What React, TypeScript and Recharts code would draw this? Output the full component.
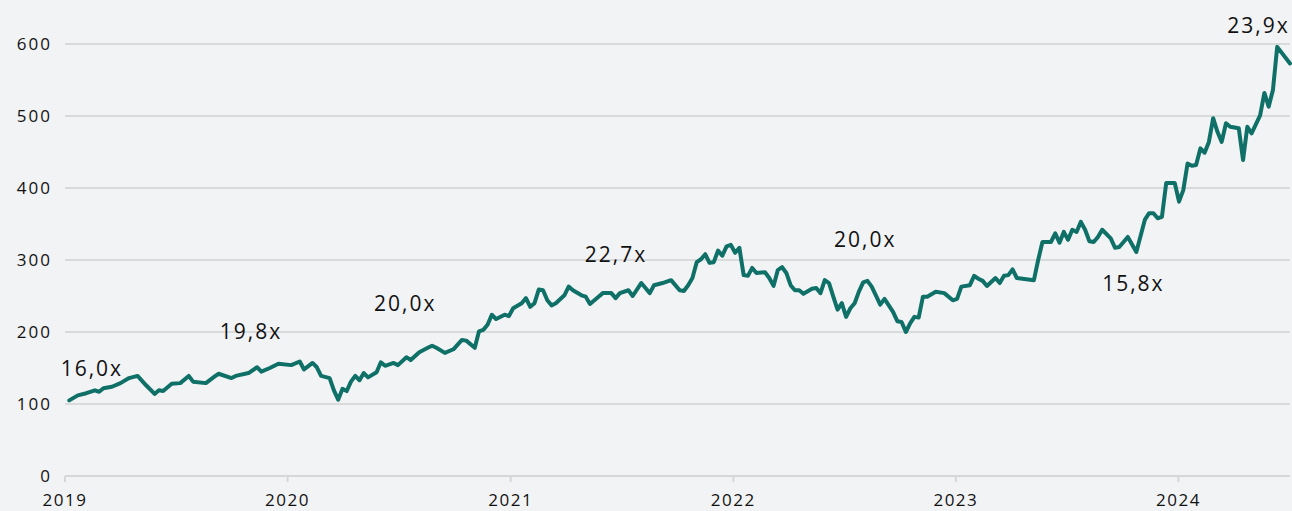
import React from "react";
import {
  LineChart,
  Line,
  XAxis,
  YAxis,
  CartesianGrid,
  ReferenceDot,
} from "recharts";

// weeks since 2019-01-01
const weeks = [
  1, 3, 5, 7, 8, 9, 11, 13, 15, 17, 19, 21, 22, 23, 25, 27, 29, 30, 33, 35,
  36, 39, 40, 43, 45, 46, 48, 50, 53, 55, 56, 58, 59, 60, 62, 63, 64, 65, 66, 67,
  68, 69, 70, 71, 73, 74, 75, 77, 78, 80, 81, 83, 85, 86, 87, 89, 91, 93, 94, 96,
  97, 98, 99, 100, 101, 103, 104, 105, 107, 108, 109, 110, 111, 112, 113, 114, 115, 117, 118, 119,
  121, 122, 123, 125, 126, 128, 129, 130, 132, 133, 135, 136, 137, 138, 140, 142, 144, 145, 146, 147,
  148, 149, 150, 151, 152, 153, 154, 155, 156, 157, 158, 159, 160, 161, 162, 164, 165, 166, 167, 168,
  169, 170, 171, 172, 173, 175, 176, 177, 178, 179, 180, 181, 182, 183, 184, 185, 186, 187, 188, 189,
  191, 192, 194, 195, 196, 197, 198, 199, 200, 201, 202, 204, 206, 208, 209, 210, 212, 213, 214, 215,
  216, 218, 219, 220, 221, 222, 223, 227, 228, 229, 230, 231, 232, 233, 234, 235, 236, 237, 238, 239,
  240, 241, 242, 243, 245, 246, 247, 249, 251, 253, 254, 255, 256, 257, 258, 260, 261, 262, 263, 264,
  265, 266, 267, 268, 269, 270, 271, 272, 273, 275, 276, 277, 278, 280, 281, 282, 283, 284, 287,
];

const values = [
  105, 112, 115, 119, 117, 122, 124, 129, 136, 139, 126, 114, 119, 118, 128, 129, 139, 131, 129, 138,
  142, 136, 139, 143, 151, 145, 150, 156, 154, 159, 148, 157, 151, 139, 136, 119, 106, 121, 118, 131,
  139, 133, 143, 137, 144, 158, 153, 157, 154, 165, 161, 172, 178, 181, 178, 171, 176, 189, 188, 178,
  201, 203, 210, 224, 218, 224, 222, 233, 240, 247, 235, 240, 259, 258, 244, 237, 240, 251, 263, 258,
  251, 249, 239, 249, 254, 254, 247, 254, 258, 250, 268, 261, 254, 265, 268, 272, 258, 257, 265, 275,
  297, 301, 308, 296, 297, 313, 306, 319, 321, 310, 317, 279, 278, 289, 282, 283, 275, 264, 286, 290,
  282, 265, 258, 258, 253, 260, 261, 254, 272, 268, 249, 231, 240, 221, 233, 240, 256, 269, 271, 263,
  238, 246, 228, 215, 214, 200, 212, 221, 220, 249, 249, 256, 254, 244, 246, 263, 265, 278, 274, 271,
  264, 275, 268, 278, 279, 287, 275, 272, 300, 325, 325, 325, 337, 324, 339, 328, 342, 339, 353, 342,
  326, 325, 332, 342, 330, 317, 318, 332, 311, 356, 365, 365, 358, 360, 407, 407, 381, 397, 434, 431,
  432, 455, 449, 464, 497, 478, 464, 490, 485, 483, 439, 485, 476, 501, 532, 513, 536, 596, 573,
];

const years = [2019, 2020, 2021, 2022, 2023, 2024];
const yTicks = [0, 100, 200, 300, 400, 500, 600];

const peLabels = ["16,0x", "19,8x", "20,0x", "22,7x", "20,0x", "15,8x", "23,9x"];
const peWeeks = [6.3, 43.6, 79.7, 129.1, 187.5, 250.3, 279.6];
const peLevels = [149, 200, 240, 308, 328, 267, 626];

const WEEK_MS = 7 * 24 * 3600 * 1000;
const weekOfYear = (y: number) => (Date.UTC(y, 0, 1) - Date.UTC(2019, 0, 1)) / WEEK_MS;
const yearTicks = years.map(weekOfYear);

const data = weeks.map((w, i) => ({ week: w, value: values[i] }));

const FONT = "'Open Sans', 'DejaVu Sans', sans-serif";
const LINE = "#0f7068";

export default function App() {
  return (
    <div
      style={{
        position: "absolute",
        left: 0,
        top: 0,
        width: 1292,
        height: 511,
        background: "#f2f3f5",
        fontFamily: FONT,
      }}
    >
      <LineChart
        width={1292}
        height={511}
        data={data}
        margin={{ top: 44, right: 2, left: 0, bottom: 0 }}
      >
        <CartesianGrid vertical={false} stroke="#d9dadc" strokeWidth={2} />
        <XAxis
          dataKey="week"
          type="number"
          domain={[0, 287]}
          ticks={yearTicks}
          tickFormatter={(w: number) => String(Math.round(2019 + (w * 7) / 365.25))}
          height={35}
          stroke="#d6d7d9"
          strokeWidth={2}
          tickSize={6}
          tickMargin={12}
          tick={{ fill: "#111", fontSize: 17, fontFamily: FONT, letterSpacing: 1.5 }}
        />
        <YAxis
          type="number"
          domain={[0, 600]}
          ticks={yTicks}
          width={65}
          axisLine={false}
          tickLine={false}
          tickSize={10}
          tickMargin={3}
          tick={{ fill: "#111", fontSize: 17, fontFamily: FONT, letterSpacing: 2 }}
        />
        <Line
          type="linear"
          dataKey="value"
          stroke={LINE}
          strokeWidth={4}
          strokeLinejoin="round"
          strokeLinecap="round"
          dot={false}
          activeDot={false}
          isAnimationActive={false}
        />
        {peLabels.map((lab, i) => (
          <ReferenceDot
            key={i}
            x={peWeeks[i]}
            y={peLevels[i]}
            r={0}
            fill="none"
            stroke="none"
            ifOverflow="visible"
            label={{
              value: lab,
              position: "center",
              fill: "#111",
              fontSize: 21,
              fontFamily: FONT,
              letterSpacing: 2,
            }}
          />
        ))}
      </LineChart>
    </div>
  );
}
